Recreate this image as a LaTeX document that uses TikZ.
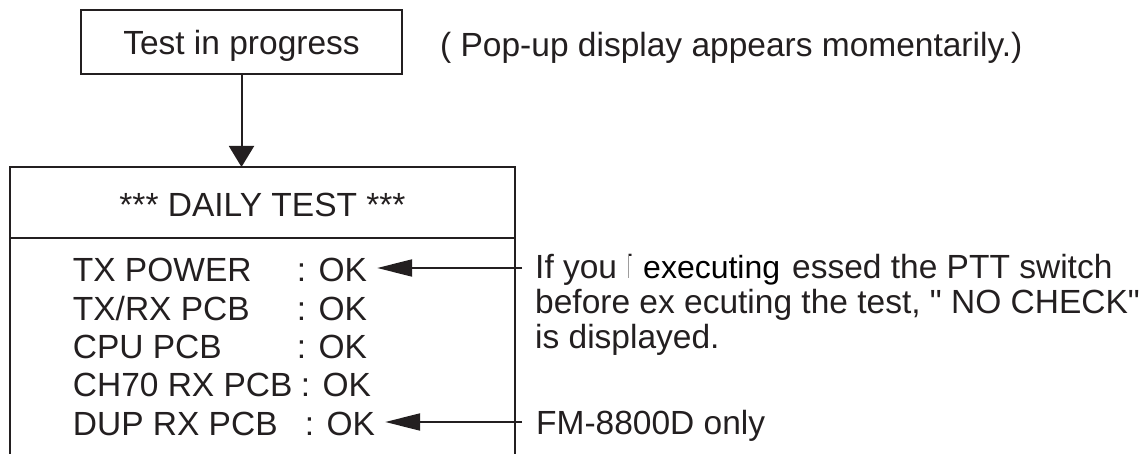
\documentclass[tikz,border=0pt]{standalone}
\usepackage{fontspec}
\setmainfont{Liberation Sans}[Ligatures=TeXOff]
\usetikzlibrary{arrows.meta,positioning}
\definecolor{ink}{HTML}{231F20}
\tikzset{
  frame/.style={draw=ink,line width=2.2pt},
  txt/.style={inner sep=0pt,text=ink,font=\fontsize{33.5}{34.5}\selectfont},
  ptr/.style={draw=ink,line width=2pt,shorten >=10pt,-{Triangle[length=35pt,width=17pt]}},
  down/.style={draw=ink,line width=2pt,-{Triangle[length=21pt,width=25pt]}},
}
\newcommand{\okrow}[2][224pt]{\makebox[#1][l]{#2}: OK}

\begin{document}
\begin{tikzpicture}[x=1pt,y=-1pt]
  \def\xl{10} \def\xr{515} \def\ytop{167} \def\ybot{454} % screen frame
  \useasboundingbox (0,0) rectangle (1140,454);
  % pop-up
  \node[frame,txt,text depth=0pt,minimum width=321pt,minimum height=64pt] (prog) at (241.5,42) {Test in progress};
  \node[txt,anchor=base west] (popup) at (440,57) {( Pop-up display appears momentarily.)};
  % daily test screen
  \coordinate (tl) at (\xl,\ytop);
  \coordinate (tr) at (\xr,\ytop);
  \draw[frame] (\xl,\ybot) -- (tl) -- (tr) -- (\xr,\ybot);
  \draw[frame] (\xl,238) -- (\xr,238);
  \draw[down] (prog.south) -- (prog.south |- tl);
  \node[txt,anchor=base] (title) at (262.5,217) {*** DAILY TEST ***};
  \node[txt,anchor=base west] (r1) at (72.7,282) {\okrow{TX POWER}};
  \node[txt,anchor=base west] (r2) at (72.7,320.3) {\okrow{TX/RX PCB}};
  \node[txt,anchor=base west] (r3) at (72.7,358.6) {\okrow{CPU PCB}};
  \node[txt,anchor=base west] (r4) at (72.7,396.9) {\okrow[228pt]{CH70 RX PCB}};
  \node[txt,anchor=base west] (r5) at (72.7,435.2) {\okrow[232pt]{DUP RX PCB}};
  % notes
  \coordinate (in1) at (522,268);
  \coordinate (in2) at (522,422);
  \draw[ptr] (in1) -- (in1 -| r1.east);
  \draw[ptr] (in2) -- (in2 -| r5.east);
  \node[txt,anchor=base west] (n1a) at (535,279) {If you h};
  \node[txt,anchor=base west,text=black,fill=white,inner xsep=14pt,font=\fontsize{32}{34.5}\selectfont] (exec) at (629,279) {executing};
  \node[txt,anchor=base west] (n1b) at (792,279) {essed the PTT switch};
  \node[txt,anchor=base west] (n2) at (535,313.5) {before ex ecuting the test, " NO CHECK"};
  \node[txt,anchor=base west] (n3) at (535,348) {is displayed.};
  \node[txt,anchor=base west] (fm) at (536,434) {FM-8800D only};
\end{tikzpicture}
\end{document}
